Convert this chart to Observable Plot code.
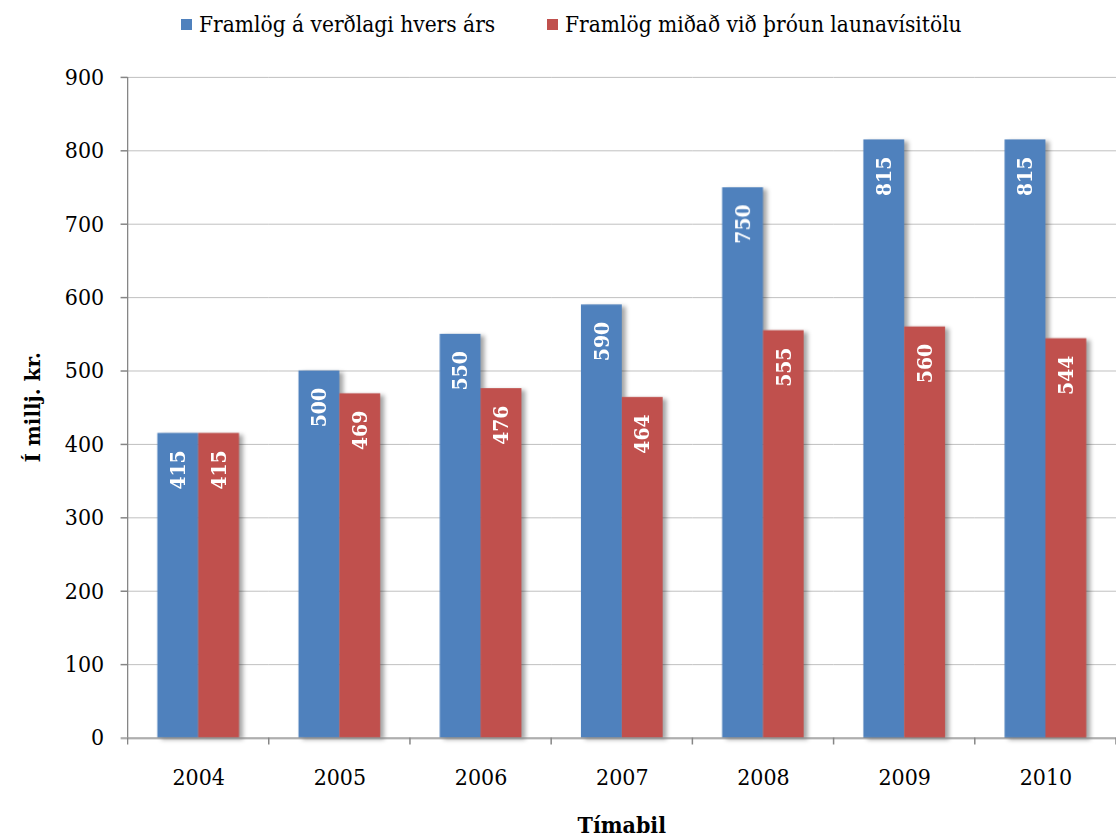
<!DOCTYPE html>
<html><head><meta charset="utf-8">
<script src="https://cdn.jsdelivr.net/npm/d3@7"></script>
<script src="https://cdn.jsdelivr.net/npm/@observablehq/plot@0.6"></script>
<style>
body{margin:0;overflow:hidden;background:#fff;font-family:"DejaVu Serif",serif;font-stretch:condensed;}
#legend{position:relative;height:50px;width:1116px;font-size:22.5px;color:#000;}
.item{position:absolute;top:11px;display:flex;align-items:center;white-space:nowrap;}
.sw{width:11px;height:11px;margin-right:7px;}
#chart svg{display:block;}
</style></head><body>
<div id="legend"></div>
<div id="chart"></div>
<script>
const years = ["2004","2005","2006","2007","2008","2009","2010"];
const seriesNames = ["Framlög á verðlagi hvers árs","Framlög miðað við þróun launavísitölu"];
const nominal = [415,500,550,590,750,815,815];
const indexed = [415,469,476,464,555,560,544];
const colors = ["#4F81BD","#C0504D"];
const yTicks = [0,100,200,300,400,500,600,700,800,900];
const yTitle = "Í millj. kr.";
const xTitle = "Tímabil";

const data = years.flatMap((yr,i)=>[
  {year:yr, series:seriesNames[0], value:nominal[i]},
  {year:yr, series:seriesNames[1], value:indexed[i]}
]);

// legend
const legend = d3.select("#legend");
const legendLeft = [181, 547];
seriesNames.forEach((n,i)=>{
  const it = legend.append("div").attr("class","item").style("left",legendLeft[i]+"px");
  it.append("div").attr("class","sw").style("background",colors[i]);
  it.append("span").text(n);
});

const font = '"DejaVu Serif", serif';
const plot = Plot.plot({
  width:1120, height:787,
  marginLeft:128, marginRight:0, marginTop:27, marginBottom:97,
  style:{fontFamily:font, fontSize:"23px", fontStretch:"condensed", overflow:"visible", background:"#fff", color:"#000"},
  fx:{domain:years, padding:0, label:null, round:false},
  x:{domain:seriesNames, paddingInner:0, paddingOuter:0.728, axis:null, round:false},
  y:{domain:[0,900], label:null},
  color:{domain:seriesNames, range:colors},
  marks:[
    Plot.gridY(yTicks.slice(1),{stroke:"#c0c0c0", strokeOpacity:1, strokeWidth:1}),
    Plot.barY(data,{fx:"year", x:"series", y:"value", fill:"series"}),
    Plot.ruleY([0],{stroke:"#868686", strokeWidth:1.5}),
    Plot.text(data,{fx:"year", x:"series", y:"value", text:d=>String(d.value), rotate:-90, textAnchor:"end", dy:17, fill:"white", fontWeight:"bold", fontSize:21}),
    Plot.axisY(yTicks,{tickSize:7, tickPadding:17, stroke:"#868686", strokeWidth:1.5, fill:"#000", label:null, tickFormat:d=>String(d)}),
    Plot.axisFx({anchor:"bottom", tickSize:0, tickPadding:31, label:null, fill:"#000"})
  ]
});
document.getElementById("chart").appendChild(plot);

const s = d3.select(plot);
const fx = plot.scale("fx"), y = plot.scale("y");
const y0 = y.apply(0), yTop = y.apply(900);
const bw = fx.bandwidth;
const tickXs = years.map(d=>fx.apply(d)).concat([fx.apply(years[years.length-1])+bw]);
const g = s.append("g").attr("stroke","#868686").attr("stroke-width",1.5);
g.selectAll("line.xt").data(tickXs).join("line").attr("class","xt")
  .attr("x1",d=>d).attr("x2",d=>d).attr("y1",y0).attr("y2",y0+7);
g.append("line").attr("x1",fx.apply(years[0])).attr("x2",fx.apply(years[0]))
  .attr("y1",yTop).attr("y2",y0);
s.selectAll('g[aria-label="bar"]').style("filter","drop-shadow(4px 2px 2px rgba(0,0,0,0.35))");
// axis titles
s.append("text").text(yTitle).attr("transform",`translate(33,${(yTop+y0)/2}) rotate(-90)`)
  .attr("text-anchor","middle").attr("dy","0.35em").attr("font-family",font)
  .style("font-stretch","normal").attr("font-weight","bold")
  .attr("font-size",20).attr("fill","#000");
s.append("text").text(xTitle).attr("x",(fx.apply(years[0])+tickXs[tickXs.length-1])/2).attr("y",y0+96)
  .attr("text-anchor","middle").attr("font-family",font).attr("font-weight","bold")
  .attr("font-size",23).attr("fill","#000");
</script>
</body></html>
